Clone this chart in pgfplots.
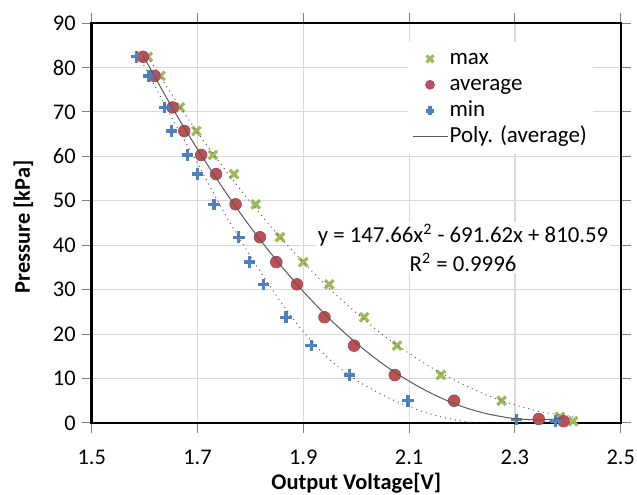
\documentclass[border=0pt]{standalone}
\usepackage{fontspec}
\setmainfont{Carlito}
\usepackage{pgfplots}
\pgfplotsset{compat=1.18}
\usetikzlibrary{calc}

\definecolor{cmax}{HTML}{9BBB59}
\definecolor{cavg}{HTML}{C0504D}
\definecolor{cavgedge}{HTML}{A04A78}
\definecolor{cmin}{HTML}{4F81BD}
\definecolor{gridc}{HTML}{D9D9D9}
\definecolor{trend}{HTML}{595959}

% measured points: voltage [V], pressure [kPa]
\pgfplotstableread{
x y
1.606 82.4
1.630 78.1
1.667 71.0
1.698 65.7
1.729 60.3
1.769 56.0
1.810 49.2
1.856 41.8
1.900 36.2
1.949 31.2
2.015 23.8
2.077 17.4
2.160 10.8
2.275 5.0
2.385 1.4
2.410 0.4
}\maxdata
\pgfplotstableread{
x y
1.597 82.4
1.619 78.1
1.653 71.0
1.675 65.7
1.707 60.3
1.735 56.0
1.772 49.2
1.818 41.8
1.849 36.2
1.888 31.2
1.940 23.8
1.996 17.4
2.073 10.8
2.185 5.0
2.345 0.9
2.392 0.4
}\avgdata
\pgfplotstableread{
x y
1.585 82.4
1.608 78.1
1.638 71.0
1.651 65.7
1.681 60.3
1.700 56.0
1.731 49.2
1.778 41.8
1.798 36.2
1.825 31.2
1.867 23.8
1.915 17.4
1.987 10.8
2.098 5.0
2.303 0.8
2.377 0.4
}\mindata

\begin{document}
\begin{tikzpicture}
\begin{axis}[
    name=ax,
    width=264.5pt, height=200pt, scale only axis,
    xmin=1.5, xmax=2.5, ymin=0, ymax=90,
    xtick={1.5,1.7,1.9,2.1,2.3,2.5},
    ytick={0,10,...,90},
    xticklabel style={yshift=-5pt, /pgf/number format/.cd, fixed, fixed zerofill, precision=1},
    /pgf/number format/assume math mode=true,
    tick label style={font=\fontsize{11.2}{13}\selectfont},
    yticklabel style={xshift=0.5pt},
    grid=major,
    major grid style={gridc, line width=0.6pt},
    tick align=outside,
    major tick length=5pt,
    major tick style={gray, line width=0.5pt},
    axis line style={black, line width=1.2pt},
    xlabel={Output Voltage[V]},
    ylabel={Pressure [kPa]},
    label style={font=\fontsize{11.2}{13}\selectfont\bfseries},
    xlabel style={at={(axis description cs:0.5,-0.151)}, anchor=center},
    ylabel style={at={(axis description cs:-0.129,0.49)}, anchor=center},
    clip mode=individual,
    legend style={at={(axis description cs:0.598,0.954)}, anchor=north west,
        draw=none, fill=white, font=\fontsize{11.5}{13}\selectfont,
        nodes={text height=8.5pt, text depth=2.5pt, inner sep=1pt},
        row sep=0pt, inner sep=2pt},
    legend cell align=left,
]
\addplot[only marks, mark=x, mark size=3pt, cmax, line width=1.6pt,
    legend image post style={mark size=2.4pt}] table {\maxdata};
\addlegendentry{max}
\addplot[only marks, mark=*, mark size=2.9pt, fill=cavg, draw=cavgedge, line width=0.4pt,
    legend image post style={mark size=2.2pt}] table {\avgdata};
\addlegendentry{average}
\addplot[only marks, mark=+, mark size=2.9pt, cmin, line width=1.7pt,
    legend image post style={mark size=2.2pt}] table {\mindata};
\addlegendentry{min}
% polynomial trendline of the average points
\addplot[trend, line width=0.5pt, smooth, no marks] coordinates {
(1.597,82.7) (1.65,71.4) (1.70,61.6) (1.75,52.5) (1.80,44.1) (1.85,36.5)
(1.90,29.6) (1.95,23.4) (2.00,18.0) (2.05,13.3) (2.10,9.4) (2.15,6.2)
(2.20,3.7) (2.25,2.0) (2.30,1.0) (2.35,0.7) (2.392,1.1)};
\addlegendentry{Poly. (average)}
% dotted trendlines of max and min
\addplot[trend, line width=0.5pt, dotted, smooth, no marks, forget plot] coordinates {
(1.606,82.4) (1.651,74.0) (1.702,65.1) (1.752,57.0) (1.803,49.3) (1.853,42.2)
(1.904,35.7) (1.954,29.7) (2.005,24.3) (2.055,19.4) (2.106,15.2) (2.156,11.5)
(2.207,8.4) (2.257,5.8) (2.308,3.8) (2.358,2.3) (2.410,1.5)};
\addplot[trend, line width=0.5pt, dotted, smooth, no marks, forget plot] coordinates {
(1.585,83.5) (1.651,68.8) (1.702,58.0) (1.752,47.0) (1.803,37.0) (1.853,28.0)
(1.904,20.0) (1.954,13.8) (2.005,9.3) (2.055,6.0) (2.106,3.4) (2.156,1.5)
(2.207,0.3) (2.257,-0.3) (2.308,-0.2) (2.377,0.5)};
\node[fill=white, inner sep=1pt, align=center, font=\fontsize{11.4}{14.5}\selectfont]
    at (axis cs:2.202,39.5) {y = 147.66x\textsuperscript{2} - 691.62x + 810.59\\R\textsuperscript{2} = 0.9996};
\end{axis}
\pgfresetboundingbox
\path ($(ax.south west)+(-45.85pt,-36pt)$) rectangle ($(ax.north east)+(8.15pt,11.5pt)$);
\end{tikzpicture}
\end{document}
